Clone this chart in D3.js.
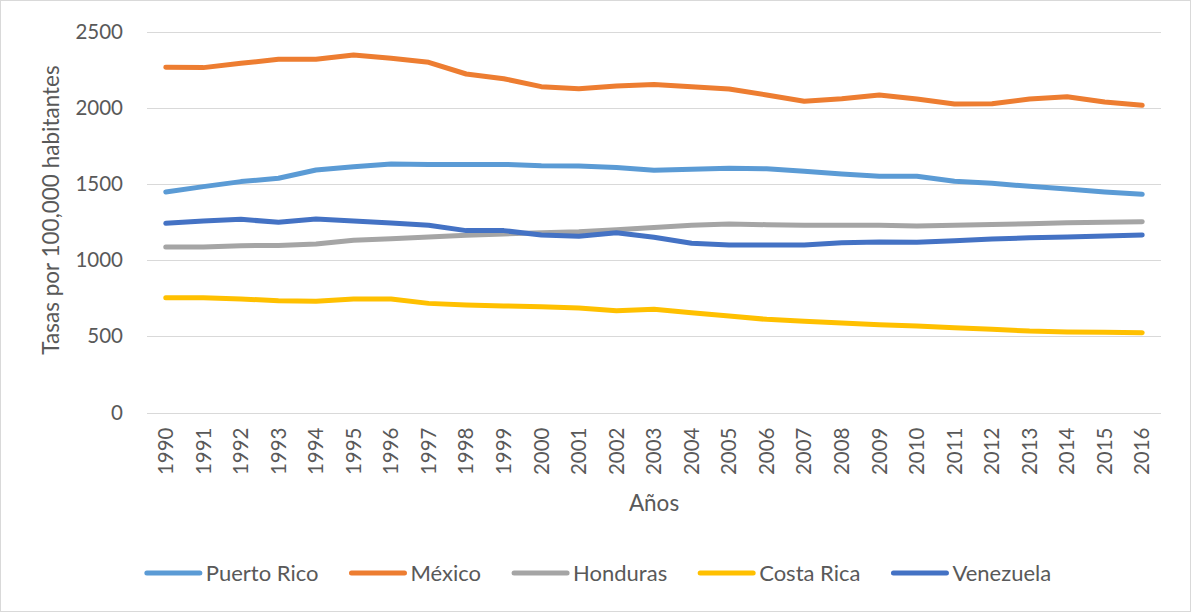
<!DOCTYPE html>
<html><head><meta charset="utf-8">
<script src="https://cdn.jsdelivr.net/npm/d3@7"></script>
<style>body{margin:0;background:#fff}svg{display:block}text{font-family:Lato,"Open Sans",sans-serif;fill:#595959}</style>
</head><body><svg id="c" width="1191" height="612"></svg>
<script>
const years = d3.range(1990, 2017).map(String);
const seriesNames = ["Puerto Rico","México","Honduras","Costa Rica","Venezuela"];
const colors = ["#5B9BD5","#ED7D31","#A5A5A5","#FFC000","#4472C4"];
const puertoRico = [1449,1484,1517,1539,1593,1615,1633,1630,1630,1630,1622,1620,1609,1592,1598,1604,1602,1585,1567,1552,1552,1519,1506,1486,1468,1449,1434];
const mexico = [2268,2266,2294,2321,2321,2349,2327,2301,2224,2193,2141,2127,2145,2155,2141,2125,2086,2045,2062,2086,2060,2027,2029,2060,2075,2040,2018];
const honduras = [1087,1087,1096,1098,1107,1131,1142,1153,1164,1173,1181,1188,1201,1215,1230,1238,1234,1230,1230,1230,1225,1230,1236,1240,1247,1250,1254];
const costaRica = [754,754,746,735,731,746,746,717,706,700,695,687,669,678,656,634,612,599,588,577,568,557,547,535,529,527,524];
const venezuela = [1243,1258,1269,1250,1271,1258,1245,1230,1195,1195,1166,1158,1181,1152,1112,1101,1101,1101,1116,1120,1118,1129,1140,1148,1153,1160,1166];
const yTicks = [0,500,1000,1500,2000,2500];
const allSeries = [puertoRico, mexico, honduras, costaRica, venezuela];

const svg = d3.select("#c");
svg.append("rect").attr("x",0.5).attr("y",0.5).attr("width",1190).attr("height",611)
  .attr("fill","#fff").attr("stroke","#d9d9d9");

const L=147, R=1161, T=32, B=412.5;
const x = d3.scaleBand().domain(years).range([L,R]);
const y = d3.scaleLinear().domain([0,2500]).range([B,T]);

// gridlines
svg.append("g").selectAll("line").data(yTicks).join("line")
  .attr("x1",L).attr("x2",R).attr("y1",d=>Math.round(y(d))+0.5).attr("y2",d=>Math.round(y(d))+0.5)
  .attr("stroke","#d9d9d9").attr("stroke-width",1);

// y axis labels
const yAxis = d3.axisLeft(y).tickValues(yTicks).tickFormat(d3.format("d")).tickSize(0).tickPadding(24);
const gy = svg.append("g").attr("transform",`translate(${L},0)`).call(yAxis);
gy.select(".domain").remove();
gy.selectAll("text").attr("font-size",20.5).style("font-family","Lato").attr("fill","#595959");

// x axis labels
const xAxis = d3.axisBottom(x).tickSize(0).tickPadding(0);
const gx = svg.append("g").attr("transform",`translate(0,${B})`).call(xAxis);
gx.select(".domain").remove();
gx.selectAll("text").attr("font-size",20.5).style("font-family","Lato").attr("fill","#595959")
  .attr("transform","rotate(-90)").attr("text-anchor","end").attr("x",-15).attr("y",0).attr("dy","0.35em");

// axis titles
svg.append("text").attr("transform","translate(59,210) rotate(-90)").attr("text-anchor","middle")
  .attr("font-size",22.5).text("Tasas por 100,000 habitantes");
svg.append("text").attr("x",(L+R)/2).attr("y",511).attr("text-anchor","middle")
  .attr("font-size",22.5).text("Años");

// lines
const line = d3.line().x((d,i)=>x(years[i])+x.bandwidth()/2).y(d=>y(d));
svg.append("g").selectAll("path").data(allSeries).join("path")
  .attr("d",line).attr("fill","none").attr("stroke",(d,i)=>colors[i])
  .attr("stroke-width",5).attr("stroke-linejoin","round").attr("stroke-linecap","round");

// legend
const lg = svg.append("g");
const items = lg.selectAll("g").data(seriesNames).join("g");
items.append("line").attr("x1",0).attr("x2",53).attr("y1",0).attr("y2",0)
  .attr("stroke",(d,i)=>colors[i]).attr("stroke-width",5).attr("stroke-linecap","round");
items.append("text").attr("x",59).attr("y",0).attr("dy","0.35em").attr("font-size",22).text(d=>d);
let pos = 0; const offs=[];
items.each(function(){ const w = this.querySelector("text").getComputedTextLength(); offs.push(pos); pos += 59 + w + 33; });
const total = pos - 33;
const start = 599 - total/2;
items.attr("transform",(d,i)=>`translate(${start+offs[i]},573)`);
</script></body></html>
